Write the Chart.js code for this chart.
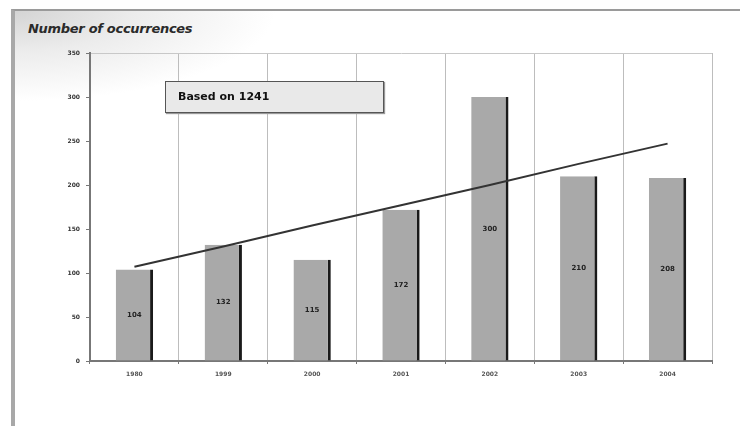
<!DOCTYPE html>
<html>
<head>
<meta charset="utf-8">
<script src="https://cdn.jsdelivr.net/npm/chart.js@4"></script>
<style>
  html, body { margin: 0; padding: 0; background: #fff; }
  #wrap { position: relative; width: 740px; height: 426px; overflow: hidden; background: #fff; }
  #frame { position: absolute; left: 11px; top: 9px; width: 740px; height: 430px;
    border-top: 2px solid #9a9a9a; border-left: 4px solid #a8a8a8;
    background: radial-gradient(ellipse 260px 90px at 0px 0px, #d4d4d4 0%, #ececec 45%, #ffffff 100%); }
  #title { position: absolute; left: 28px; top: 21px; font-family: "DejaVu Sans", sans-serif;
    font-style: italic; font-weight: bold; font-size: 13px; color: #2a2a2a; letter-spacing: -0.3px; }
  #box { position: absolute; left: 165px; top: 81px; width: 205px; height: 30px;
    background: #e9e9e9; border: 1.5px solid #555; box-shadow: 1px 1px 1px #999;
    font-family: "DejaVu Sans", sans-serif; font-weight: bold; font-size: 11px; color: #111;
    line-height: 30px; padding-left: 12px; box-sizing: content-box; }
  canvas { position: absolute; left: 0; top: 0; }
</style>
</head>
<body>
<div id="wrap">
  <div id="frame"></div>
  <div id="title">Number of occurrences</div>
  <canvas id="c" width="740" height="426"></canvas>
  <div id="box">Based on 1241</div>
</div>
<script>
const categories = ["1980", "1999", "2000", "2001", "2002", "2003", "2004"];
const occurrences = [104, 132, 115, 172, 300, 210, 208];
const trendValues = [107, 130, 154, 177, 200, 224, 247];
const yTicks = [0, 50, 100, 150, 200, 250, 300, 350];

const barLabels = {
  id: 'barLabels',
  afterDatasetsDraw(chart) {
    const ctx = chart.ctx;
    const meta = chart.getDatasetMeta(1);
    ctx.save();
    ctx.font = 'bold 7px "DejaVu Sans", sans-serif';
    ctx.fillStyle = '#222';
    ctx.textAlign = 'center';
    ctx.textBaseline = 'middle';
    meta.data.forEach((el, i) => {
      const p = el.getProps(['x', 'y', 'base'], true);
      ctx.fillText(String(occurrences[i]), p.x, (p.y + p.base) / 2);
    });
    ctx.restore();
  }
};

new Chart(document.getElementById('c'), {
  type: 'bar',
  data: {
    labels: categories,
    datasets: [
      {
        type: 'line',
        data: trendValues,
        borderColor: '#333',
        borderWidth: 2,
        pointRadius: 0,
        fill: false,
        tension: 0,
        order: 0
      },
      {
        type: 'bar',
        data: occurrences,
        backgroundColor: '#a9a9a9',
        borderColor: '#1a1a1a',
        borderWidth: { top: 0, left: 0, bottom: 0, right: 3 },
        borderSkipped: false,
        barPercentage: 0.42,
        categoryPercentage: 1.0,
        order: 1
      }
    ]
  },
  options: {
    responsive: false,
    animation: false,
    layout: { padding: { left: 0, right: 28, top: 53, bottom: 0 } },
    plugins: { legend: { display: false }, tooltip: { enabled: false }, title: { display: false } },
    scales: {
      x: {
        offset: true,
        grid: { offset: true, color: '#bdbdbd', lineWidth: 1, tickLength: 3, tickColor: '#777' },
        border: { color: '#777', width: 2 },
        ticks: { font: { family: 'DejaVu Sans', size: 6, weight: 'bold' }, color: '#555', padding: 7 },
        afterFit(s) { s.height = 65; }
      },
      y: {
        min: 0, max: 350,
        afterBuildTicks(s) { s.ticks = yTicks.map(v => ({ value: v })); },
        grid: {
          drawOnChartArea: true,
          color: ctx => (ctx.tick && ctx.tick.value === 350) ? '#c8c8c8' : 'rgba(0,0,0,0)',
          tickColor: '#777', tickLength: 4
        },
        border: { color: '#777', width: 2 },
        ticks: { font: { family: 'DejaVu Sans', size: 6, weight: 'bold' }, color: '#333', padding: 6 },
        afterFit(s) { s.width = 90; }
      }
    }
  },
  plugins: [barLabels]
});
</script>
</body>
</html>
